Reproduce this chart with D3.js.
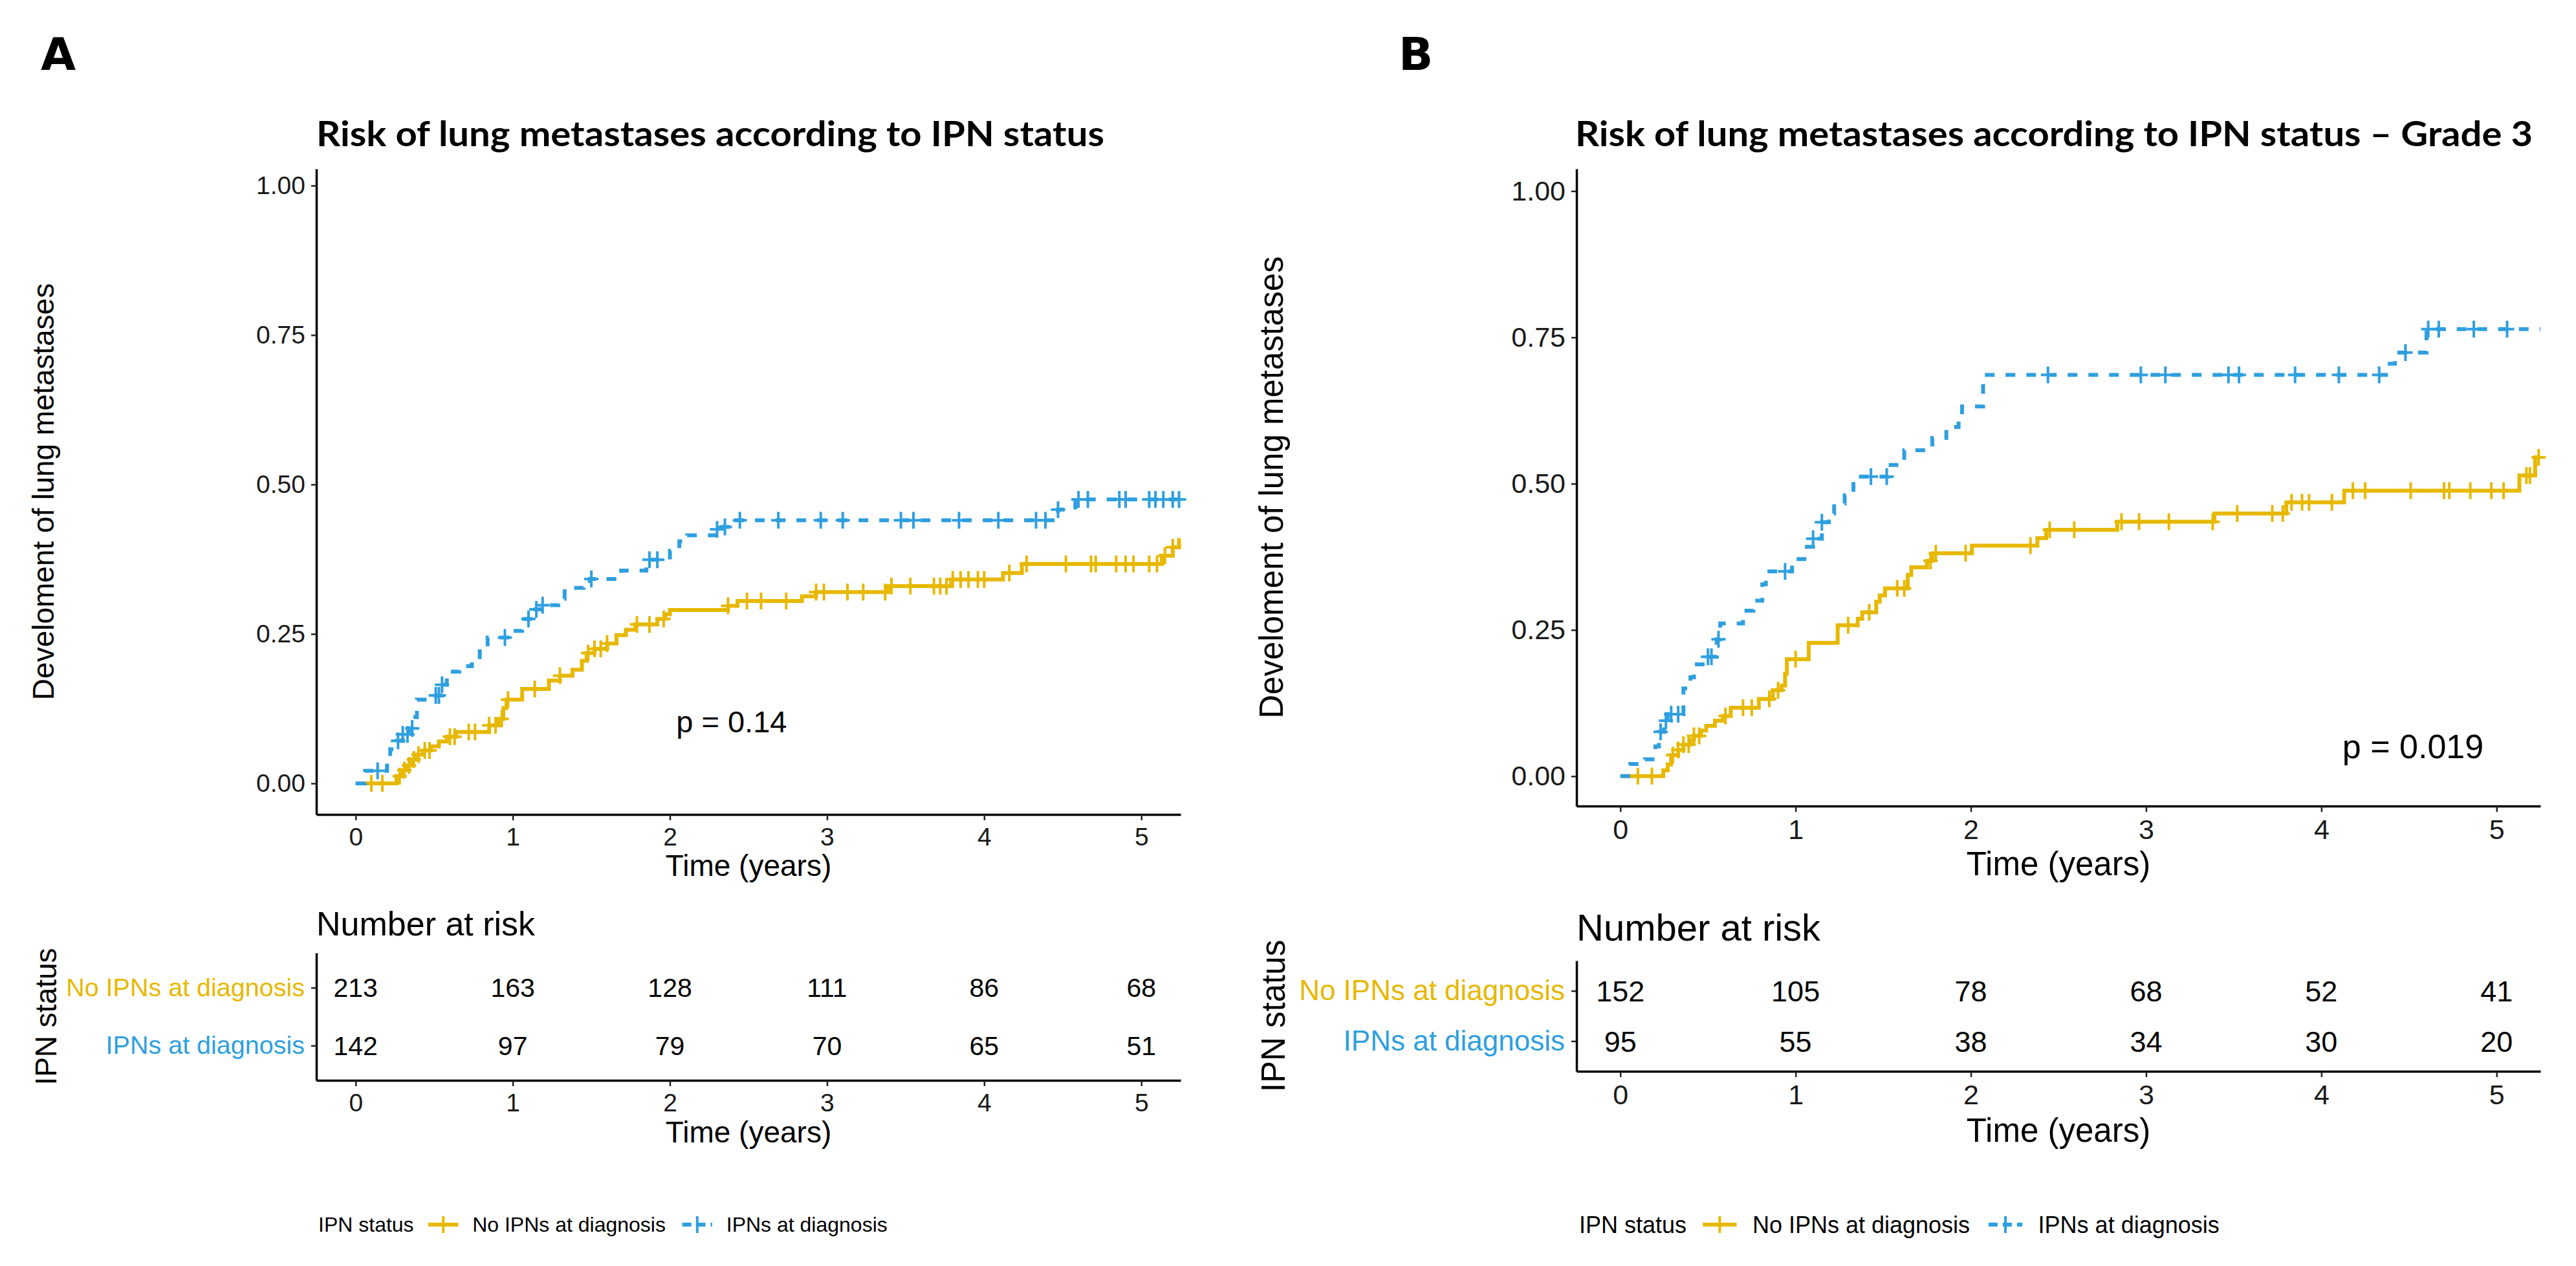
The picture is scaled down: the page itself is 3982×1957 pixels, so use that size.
<!DOCTYPE html>
<html>
<head>
<meta charset="utf-8">
<script src="https://cdn.jsdelivr.net/npm/d3@7"></script>
<style>
  body { margin: 0; background: #fff; }
  text { font-family: 'Liberation Sans', Arial, sans-serif; }
</style>
</head>
<body>
<div id="chart"></div>
<script>
const years = [0, 1, 2, 3, 4, 5];
const groups = ['No IPNs at diagnosis', 'IPNs at diagnosis'];
const groupColors = ['#E7B800', '#2E9FDF'];
const yTicks = [0, 0.25, 0.5, 0.75, 1];

// panel A - cumulative incidence, step times and values
const aNoTime = [0, 0.26, 0.29, 0.32, 0.35, 0.39, 0.43, 0.48, 0.53, 0.58, 0.64, 0.85, 0.91, 0.94, 0.96, 1.06, 1.23, 1.30, 1.38, 1.44, 1.47, 1.52, 1.60, 1.66, 1.72, 1.78, 1.92, 1.97, 2.00, 2.37, 2.43, 2.84, 2.93, 3.39, 3.79, 4.12, 4.24, 5.13, 5.20, 5.24, 5.25];
const aNoRisk = [0, 0.012, 0.022, 0.030, 0.040, 0.048, 0.055, 0.062, 0.070, 0.078, 0.086, 0.097, 0.108, 0.126, 0.140, 0.158, 0.172, 0.180, 0.190, 0.205, 0.218, 0.225, 0.234, 0.248, 0.257, 0.266, 0.275, 0.283, 0.290, 0.297, 0.305, 0.313, 0.320, 0.330, 0.341, 0.352, 0.367, 0.381, 0.395, 0.407, 0.407];
const aNoCensor = [0.10, 0.17, 0.28, 0.31, 0.34, 0.37, 0.40, 0.44, 0.47, 0.60, 0.63, 0.72, 0.76, 0.85, 0.89, 0.93, 0.97, 1.14, 1.30, 1.48, 1.52, 1.56, 1.60, 1.79, 1.87, 1.96, 2.37, 2.49, 2.58, 2.74, 2.93, 2.98, 3.13, 3.23, 3.37, 3.41, 3.53, 3.68, 3.72, 3.76, 3.80, 3.85, 3.90, 3.96, 4.00, 4.16, 4.27, 4.52, 4.68, 4.71, 4.84, 4.90, 4.95, 5.05, 5.10, 5.15, 5.20];

const aIpnTime = [0, 0.06, 0.20, 0.22, 0.26, 0.30, 0.34, 0.38, 0.39, 0.51, 0.55, 0.58, 0.66, 0.74, 0.79, 0.84, 1.00, 1.06, 1.13, 1.18, 1.29, 1.33, 1.45, 1.49, 1.69, 1.85, 2.00, 2.06, 2.11, 2.29, 2.32, 2.39, 4.47, 4.58, 5.25];
const aIpnRisk = [0, 0.021, 0.043, 0.057, 0.071, 0.082, 0.092, 0.111, 0.140, 0.147, 0.165, 0.187, 0.196, 0.207, 0.226, 0.244, 0.255, 0.275, 0.291, 0.298, 0.309, 0.327, 0.331, 0.342, 0.356, 0.374, 0.389, 0.405, 0.415, 0.425, 0.429, 0.440, 0.458, 0.475, 0.475];
const aIpnCensor = [0.14, 0.27, 0.30, 0.33, 0.36, 0.51, 0.53, 0.55, 0.95, 1.10, 1.15, 1.19, 1.50, 1.87, 1.92, 2.30, 2.35, 2.445, 2.69, 2.96, 3.10, 3.47, 3.55, 3.84, 4.09, 4.33, 4.39, 4.47, 4.60, 4.66, 4.86, 4.90, 5.05, 5.09, 5.14, 5.20, 5.24];

const aAtRiskNo = [213, 163, 128, 111, 86, 68];
const aAtRiskIpn = [142, 97, 79, 70, 65, 51];

// panel B - grade 3
const bNoTime = [0, 0.245, 0.27, 0.29, 0.33, 0.36, 0.40, 0.42, 0.46, 0.49, 0.54, 0.585, 0.63, 0.79, 0.87, 0.92, 0.94, 0.95, 1.075, 1.24, 1.355, 1.38, 1.46, 1.48, 1.51, 1.64, 1.66, 1.75, 1.78, 2.006, 2.38, 2.43, 2.835, 3.39, 3.80, 4.13, 5.13, 5.22, 5.25];
const bNoRisk = [0, 0.010, 0.020, 0.036, 0.045, 0.054, 0.062, 0.069, 0.078, 0.086, 0.095, 0.103, 0.117, 0.132, 0.147, 0.155, 0.175, 0.200, 0.228, 0.258, 0.269, 0.280, 0.298, 0.309, 0.321, 0.344, 0.357, 0.368, 0.381, 0.394, 0.407, 0.421, 0.435, 0.449, 0.468, 0.488, 0.514, 0.545, 0.545];
const bNoCensor = [0.10, 0.18, 0.30, 0.33, 0.36, 0.39, 0.42, 0.45, 0.60, 0.70, 0.75, 0.85, 0.90, 1.00, 1.30, 1.42, 1.58, 1.62, 1.77, 1.80, 1.97, 2.34, 2.45, 2.59, 2.86, 2.96, 3.13, 3.38, 3.52, 3.72, 3.78, 3.83, 3.89, 3.93, 4.06, 4.18, 4.25, 4.51, 4.70, 4.73, 4.85, 4.97, 5.04, 5.17, 5.19, 5.24];

const bIpnTime = [0, 0.057, 0.14, 0.20, 0.22, 0.25, 0.27, 0.36, 0.40, 0.42, 0.50, 0.55, 0.57, 0.70, 0.76, 0.81, 0.83, 0.98, 1.05, 1.10, 1.15, 1.19, 1.22, 1.28, 1.33, 1.53, 1.62, 1.78, 1.86, 1.93, 1.95, 2.07, 4.39, 4.42, 4.60, 5.25];
const bIpnRisk = [0, 0.021, 0.029, 0.051, 0.076, 0.095, 0.106, 0.150, 0.169, 0.191, 0.204, 0.234, 0.261, 0.283, 0.300, 0.328, 0.350, 0.371, 0.392, 0.406, 0.434, 0.449, 0.466, 0.480, 0.512, 0.532, 0.557, 0.578, 0.597, 0.611, 0.632, 0.686, 0.705, 0.724, 0.764, 0.764];
const bIpnCensor = [0.23, 0.26, 0.29, 0.33, 0.50, 0.52, 0.56, 0.94, 1.10, 1.15, 1.43, 1.52, 2.44, 2.97, 3.11, 3.47, 3.53, 3.85, 4.10, 4.33, 4.48, 4.61, 4.67, 4.87, 5.06];

const bAtRiskNo = [152, 105, 78, 68, 52, 41];
const bAtRiskIpn = [95, 55, 38, 34, 30, 20];

const W = 3982, H = 1957;

let svg = d3.select('#chart').append('svg')
    .attr('width', W)
    .attr('height', H)
    .attr('xmlns', 'http://www.w3.org/2000/svg');

svg.append('rect').attr('width', W).attr('height', H).attr('fill', '#fff');

function stepValue(times, risk, t) {
    let i = d3.bisectRight(times, t) - 1;
    return risk[Math.max(0, i)];
}

function styleAxis(g, size) {
    g.attr('font-family', null).attr('font-size', null);
    g.select('.domain').attr('stroke', '#000').attr('stroke-width', 3.5);
    g.selectAll('.tick line').attr('stroke', '#222').attr('stroke-width', 2.5);
    g.selectAll('.tick text')
        .attr('fill', '#1a1a1a')
        .style('font-family', "'Liberation Sans', Arial, sans-serif")
        .style('font-size', size + 'px');
}

function drawPanel(p) {
    const x = d3.scaleLinear().domain([-0.25, 5.25]).range([p.left, p.right]);
    const y = d3.scaleLinear().domain(p.yDom).range([p.bottom, p.top]);

    // panel letter
    svg.append('text')
        .attr('x', p.letterX).attr('y', 108)
        .style('font-family', "'DejaVu Sans', sans-serif")
        .style('font-weight', 900)
        .style('font-size', '70px')
        .text(p.letter);

    // title
    svg.append('text')
        .attr('x', p.titleX).attr('y', 226)
        .attr('textLength', p.titleLen)
        .attr('lengthAdjust', 'spacingAndGlyphs')
        .style('font-family', "Lato, 'Open Sans', sans-serif")
        .style('font-weight', 700)
        .style('font-size', '54px')
        .text(p.title);

    // axes
    let gx = svg.append('g')
        .attr('transform', 'translate(0,' + p.bottom + ')')
        .call(d3.axisBottom(x).tickValues(years).tickFormat(d3.format('d'))
            .tickSize(9).tickSizeOuter(0).tickPadding(11));
    styleAxis(gx, p.tick);

    let gy = svg.append('g')
        .attr('transform', 'translate(' + p.left + ',0)')
        .call(d3.axisLeft(y).tickValues(yTicks).tickFormat(d3.format('.2f'))
            .tickSize(8).tickSizeOuter(0).tickPadding(9));
    styleAxis(gy, p.tick);

    svg.append('text')
        .attr('x', (p.left + p.right) / 2).attr('y', p.xTitleY)
        .attr('text-anchor', 'middle')
        .style('font-size', p.axisTitle + 'px')
        .text('Time (years)');

    svg.append('text')
        .attr('transform', 'translate(' + p.yTitleX + ',' + (p.top + p.bottom) / 2 + ') rotate(-90)')
        .attr('text-anchor', 'middle')
        .style('font-size', p.axisTitle + 'px')
        .text('Develoment of lung metastases');

    // curves
    const line = d3.line()
        .x((d) => x(d[0]))
        .y((d) => y(d[1]))
        .curve(d3.curveStepAfter);

    p.series.forEach((s, i) => {
        svg.append('path')
            .datum(d3.zip(s.time, s.risk))
            .attr('fill', 'none')
            .attr('stroke', groupColors[i])
            .attr('stroke-width', 6)
            .attr('stroke-dasharray', i == 1 ? '15,17' : null)
            .attr('d', line);

        svg.append('g').selectAll('path')
            .data(s.censor)
            .enter().append('path')
            .attr('fill', 'none')
            .attr('stroke', groupColors[i])
            .attr('stroke-width', 4)
            .attr('d', (t) => {
                let cx = x(t), cy = y(stepValue(s.time, s.risk, t));
                return 'M' + (cx - 11) + ',' + cy + 'H' + (cx + 11) + 'M' + cx + ',' + (cy - 13) + 'V' + (cy + 13);
            });
    });

    svg.append('text')
        .attr('x', x(p.pvalAt[0])).attr('y', y(p.pvalAt[1]))
        .style('font-size', p.pSize + 'px')
        .text(p.pval);

    // risk table
    svg.append('text')
        .attr('x', p.left).attr('y', p.nrTitleY)
        .style('font-size', p.nrSize + 'px')
        .text('Number at risk');

    const ry = d3.scalePoint().domain(groups).range([p.tTop, p.tBottom]).padding(0.6);

    let tx = svg.append('g')
        .attr('transform', 'translate(0,' + p.tBottom + ')')
        .call(d3.axisBottom(x).tickValues(years).tickFormat(d3.format('d'))
            .tickSize(9).tickSizeOuter(0).tickPadding(11));
    styleAxis(tx, p.tick);

    let ty = svg.append('g')
        .attr('transform', 'translate(' + p.left + ',0)')
        .call(d3.axisLeft(ry).tickSize(8).tickSizeOuter(0).tickPadding(10));
    styleAxis(ty, p.tLab);
    ty.selectAll('.tick text').attr('fill', (d, i) => groupColors[i]);

    p.atRisk.forEach((row, i) => {
        svg.append('g').selectAll('text')
            .data(row)
            .enter().append('text')
            .attr('x', (d, j) => x(years[j]))
            .attr('y', ry(groups[i]))
            .attr('dy', '0.36em')
            .attr('text-anchor', 'middle')
            .style('font-size', p.tNum + 'px')
            .text((d) => d);
    });

    svg.append('text')
        .attr('x', (p.left + p.right) / 2).attr('y', p.tXTitleY)
        .attr('text-anchor', 'middle')
        .style('font-size', p.axisTitle + 'px')
        .text('Time (years)');

    svg.append('text')
        .attr('transform', 'translate(' + p.tTitleX + ',' + (p.tTop + p.tBottom) / 2 + ') rotate(-90)')
        .attr('text-anchor', 'middle')
        .style('font-size', p.axisTitle + 'px')
        .text('IPN status');

    // legend
    let lg = svg.append('g').attr('transform', 'translate(' + p.legendX + ',1893)');
    let cur = 0;
    let lt = lg.append('text').attr('x', cur).attr('dy', '0.35em')
        .style('font-size', p.legendSize + 'px').text('IPN status');
    cur += lt.node().getComputedTextLength() + p.legendSize * 0.7;
    groups.forEach((name, i) => {
        let kw = p.legendSize * 1.45;
        lg.append('line')
            .attr('x1', cur).attr('x2', cur + kw).attr('y1', 0).attr('y2', 0)
            .attr('stroke', groupColors[i]).attr('stroke-width', 6)
            .attr('stroke-dasharray', i == 1 ? '14,8' : null);
        lg.append('line')
            .attr('x1', cur + kw / 2).attr('x2', cur + kw / 2).attr('y1', -13).attr('y2', 13)
            .attr('stroke', groupColors[i]).attr('stroke-width', 4);
        cur += kw + p.legendSize * 0.68;
        let t = lg.append('text').attr('x', cur).attr('dy', '0.35em')
            .style('font-size', p.legendSize + 'px').text(name);
        cur += t.node().getComputedTextLength() + p.legendSize * 0.8;
    });
}

drawPanel({
    letter: 'A', letterX: 63,
    title: 'Risk of lung metastases according to IPN status', titleX: 489, titleLen: 1218,
    left: 489, right: 1825, top: 261, bottom: 1259, yDom: [-0.052, 1.028],
    tick: 39, axisTitle: 46, yTitleX: 83, xTitleY: 1354,
    pval: 'p = 0.14', pvalAt: [2.04, 0.085], pSize: 47,
    nrTitleY: 1446, nrSize: 52,
    tTop: 1473, tBottom: 1670, tNum: 41, tLab: 39.5, tTitleX: 87, tXTitleY: 1766,
    legendX: 492, legendSize: 32,
    series: [
        { time: aNoTime, risk: aNoRisk, censor: aNoCensor },
        { time: aIpnTime, risk: aIpnRisk, censor: aIpnCensor }
    ],
    atRisk: [aAtRiskNo, aAtRiskIpn]
});

drawPanel({
    letter: 'B', letterX: 2162,
    title: 'Risk of lung metastases according to IPN status \u2013 Grade 3', titleX: 2435, titleLen: 1480,
    left: 2437, right: 3927, top: 261, bottom: 1246, yDom: [-0.051, 1.038],
    tick: 43, axisTitle: 51, yTitleX: 1983, xTitleY: 1353,
    pval: 'p = 0.019', pvalAt: [4.12, 0.031], pSize: 52,
    nrTitleY: 1454, nrSize: 58,
    tTop: 1485, tBottom: 1656, tNum: 45, tLab: 44, tTitleX: 1986, tXTitleY: 1765,
    legendX: 2441, legendSize: 36,
    series: [
        { time: bNoTime, risk: bNoRisk, censor: bNoCensor },
        { time: bIpnTime, risk: bIpnRisk, censor: bIpnCensor }
    ],
    atRisk: [bAtRiskNo, bAtRiskIpn]
});
</script>
</body>
</html>
